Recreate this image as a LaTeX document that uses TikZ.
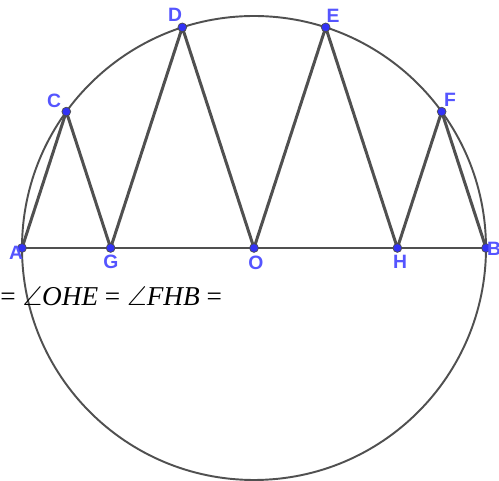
\documentclass[tikz,border=0pt]{standalone}
\usepackage{amsmath}
\usepackage{amssymb}
\usepackage{fontspec}
\setsansfont{Liberation Sans}
\newfontfamily\timesfont{Liberation Serif}
\usetikzlibrary{positioning}
\definecolor{segray}{RGB}{80,80,80}
\definecolor{ptblue}{RGB}{50,50,245}
\definecolor{lblblue}{RGB}{85,85,255}
\newcommand{\rad}{4.64}

\begin{document}
\begin{tikzpicture}[
    pt/.style={circle, fill=ptblue, draw=black!70, line width=0.4pt, inner sep=0pt, minimum size=5pt},
    lbl/.style={text=lblblue, font=\sffamily\bfseries\fontsize{11}{12}\selectfont, inner sep=0pt},
    seg/.style={draw=segray, line width=1.7pt, line join=round},
    ring/.style={draw=segray, line width=1.1pt}
  ]
    \useasboundingbox (-5.08,-4.66) rectangle (4.90,4.96);

    % Circle and diameter
    \draw[ring] (0,0) circle (\rad);
    \coordinate (A) at (180:\rad);
    \coordinate (B) at (0:\rad);
    \coordinate (O) at (0,0);
    \coordinate (G) at (-0.618*\rad,0);
    \coordinate (H) at (0.618*\rad,0);
    \coordinate (C) at (144:\rad);
    \coordinate (D) at (108:\rad);
    \coordinate (E) at (72:\rad);
    \coordinate (F) at (36:\rad);
    \draw[ring] (A) -- (B);

    % Zigzag
    \draw[seg] (A) -- (C) -- (G) -- (D) -- (O) -- (E) -- (H) -- (F) -- (B);

    % Points
    \foreach \p in {A,B,C,D,E,F,G,H,O}
      \node[pt] (pt\p) at (\p) {};

    % Labels
    \node[lbl] (labA) at (-4.76,-0.10) {A};
    \node[lbl] (labG) at (-2.86,-0.28) {G};
    \node[lbl] (labO) at (0.04,-0.30) {O};
    \node[lbl] (labH) at (2.92,-0.28) {H};
    \node[lbl] (labB) at (4.80,-0.02) {B};
    \node[lbl] (labC) at (-4.00,2.94) {C};
    \node[lbl] (labD) at (-1.58,4.66) {D};
    \node[lbl] (labE) at (1.58,4.64) {E};
    \node[lbl] (labF) at (3.92,2.96) {F};

    % Angle text
    \node[anchor=west, inner sep=0pt, font=\timesfont\fontsize{15.5}{17}\selectfont] (angtext) at (-5.08,-0.96)
      {= $\angle$\textit{OHE} = $\angle$\textit{FHB} =};
\end{tikzpicture}
\end{document}
